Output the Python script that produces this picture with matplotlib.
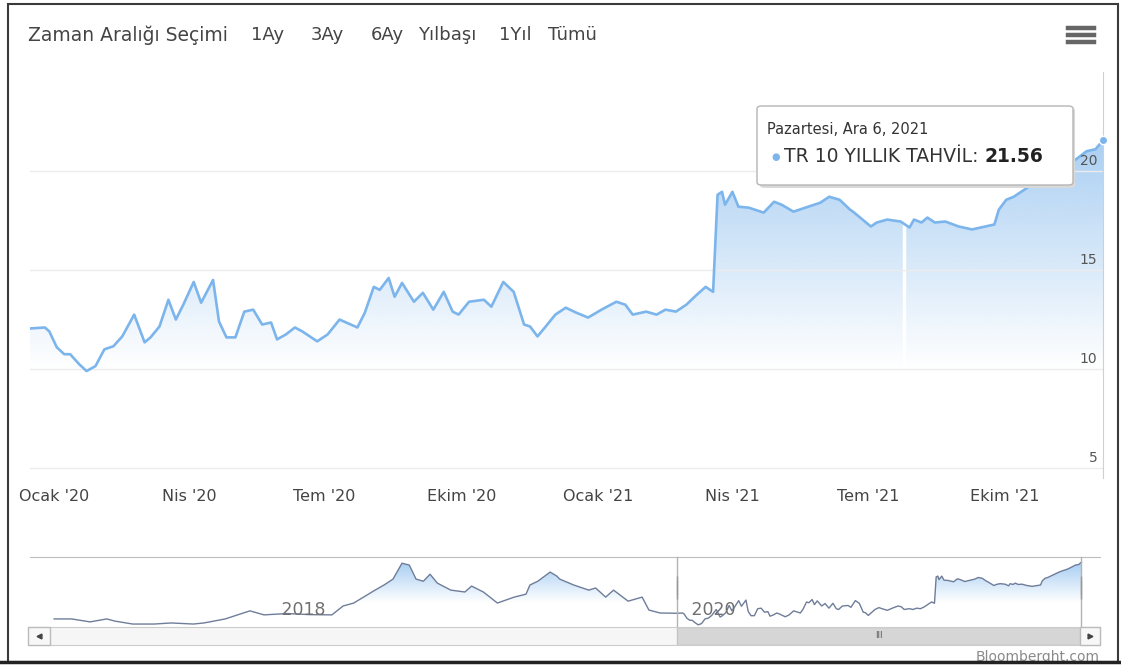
import numpy as np
import pandas as pd
import matplotlib
matplotlib.use('Agg')
import matplotlib.pyplot as plt
import matplotlib.dates as mdates
import matplotlib.transforms as mtransforms
from matplotlib.patches import Rectangle, FancyBboxPatch
from matplotlib.lines import Line2D
from matplotlib.colors import to_rgb

# TR 10 yillik tahvil getirisi (gunluk kapanis, secili aralik)
tarih = ['2019-12-16', '2019-12-26', '2019-12-29', '2020-01-03', '2020-01-08', '2020-01-12',
         '2020-01-18', '2020-01-23', '2020-01-29', '2020-02-04', '2020-02-10', '2020-02-16',
         '2020-02-24', '2020-03-02', '2020-03-06', '2020-03-12', '2020-03-18', '2020-03-23',
         '2020-03-28', '2020-04-04', '2020-04-09', '2020-04-17', '2020-04-21', '2020-04-26',
         '2020-05-02', '2020-05-08', '2020-05-14', '2020-05-20', '2020-05-26', '2020-05-30',
         '2020-06-05', '2020-06-11', '2020-06-16', '2020-06-26', '2020-07-03', '2020-07-11',
         '2020-07-23', '2020-07-28', '2020-08-03', '2020-08-07', '2020-08-13', '2020-08-17',
         '2020-08-22', '2020-08-30', '2020-09-05', '2020-09-12', '2020-09-19', '2020-09-25',
         '2020-09-29', '2020-10-06', '2020-10-16', '2020-10-21', '2020-10-29', '2020-11-05',
         '2020-11-12', '2020-11-16', '2020-11-21', '2020-11-26', '2020-12-03', '2020-12-10',
         '2020-12-17', '2020-12-25', '2021-01-03', '2021-01-13', '2021-01-19', '2021-01-24',
         '2021-02-02', '2021-02-09', '2021-02-15', '2021-02-22', '2021-03-01', '2021-03-08',
         '2021-03-14', '2021-03-19', '2021-03-22', '2021-03-25', '2021-03-27', '2021-04-01',
         '2021-04-05', '2021-04-12', '2021-04-22', '2021-04-29', '2021-05-04', '2021-05-12',
         '2021-05-20', '2021-05-30', '2021-06-05', '2021-06-12', '2021-06-19', '2021-06-21',
         '2021-07-03', '2021-07-07', '2021-07-14', '2021-07-23', '2021-07-29', '2021-08-01',
         '2021-08-06', '2021-08-10', '2021-08-15', '2021-08-22', '2021-08-31', '2021-09-09',
         '2021-09-18', '2021-09-24', '2021-09-27', '2021-10-02', '2021-10-07', '2021-10-11',
         '2021-10-17', '2021-10-25', '2021-11-01', '2021-11-10', '2021-11-18', '2021-11-25',
         '2021-12-01', '2021-12-06']
getiri = [12.05, 12.1, 11.9, 11.1, 10.75, 10.75,
          10.25, 9.9, 10.15, 11.0, 11.15, 11.65,
          12.75, 11.35, 11.6, 12.15, 13.5, 12.5,
          13.25, 14.4, 13.35, 14.5, 12.4, 11.6,
          11.6, 12.9, 13.0, 12.25, 12.35, 11.5,
          11.75, 12.1, 11.9, 11.4, 11.75, 12.5,
          12.1, 12.85, 14.15, 14.0, 14.6, 13.65,
          14.35, 13.4, 13.85, 13.0, 13.9, 12.9,
          12.75, 13.4, 13.5, 13.15, 14.4, 13.9,
          12.25, 12.15, 11.65, 12.1, 12.75, 13.1,
          12.85, 12.6, 13.0, 13.4, 13.25, 12.75,
          12.9, 12.75, 13.0, 12.9, 13.25, 13.75,
          14.15, 13.9, 18.8, 18.95, 18.3, 18.95,
          18.2, 18.15, 17.9, 18.45, 18.3, 17.95,
          18.15, 18.4, 18.7, 18.55, 18.05, 17.95,
          17.2, 17.4, 17.55, 17.45, 17.15, 17.55,
          17.4, 17.65, 17.4, 17.45, 17.2, 17.05,
          17.2, 17.3, 18.05, 18.55, 18.7, 18.9,
          19.2, 19.6, 19.9, 20.2, 20.6, 21.0,
          21.1, 21.56]

# navigator icin onceki donem
gecmis_tarih = ['2016-12-01', '2017-01-01', '2017-02-03', '2017-03-05', '2017-03-19', '2017-04-20',
                '2017-05-28', '2017-06-28', '2017-08-06', '2017-08-25', '2017-10-02', '2017-11-15',
                '2017-12-10', '2018-01-20', '2018-03-01', '2018-04-10', '2018-04-30', '2018-05-19',
                '2018-06-14', '2018-06-26', '2018-07-12', '2018-07-28', '2018-08-13', '2018-08-26',
                '2018-09-07', '2018-09-20', '2018-10-02', '2018-10-15', '2018-11-08', '2018-12-03',
                '2018-12-15', '2019-01-05', '2019-01-30', '2019-03-01', '2019-03-22', '2019-03-29',
                '2019-04-12', '2019-05-04', '2019-05-16', '2019-05-21', '2019-06-15', '2019-07-12',
                '2019-07-24', '2019-08-11', '2019-08-25', '2019-09-20', '2019-10-15', '2019-10-27',
                '2019-11-16']
gecmis_getiri = [11.0, 11.0, 10.45, 11.0, 10.6, 10.05,
                 10.05, 10.25, 10.05, 10.25, 11.0, 12.5,
                 11.75, 12.0, 11.8, 11.75, 13.4, 13.95,
                 15.6, 16.35, 17.3, 18.4, 21.35, 21.0,
                 18.4, 18.0, 19.3, 17.65, 16.35, 16.0,
                 17.1, 16.0, 13.95, 15.05, 15.6, 17.3,
                 18.0, 19.7, 18.95, 18.4, 17.3, 16.35,
                 16.75, 15.05, 16.35, 14.3, 15.05, 12.65,
                 12.1]

xtick_tarih = ['2020-01-01', '2020-04-01', '2020-07-01', '2020-10-01',
               '2021-01-01', '2021-04-01', '2021-07-01', '2021-10-01']
xtick_etiket = ["Ocak '20", "Nis '20", "Tem '20", "Ekim '20",
                "Ocak '21", "Nis '21", "Tem '21", "Ekim '21"]
ytick_deger = [5, 10, 15, 20]
nav_yil = ['2018-01-01', '2020-01-01']
bosluk_tarih = '2021-07-25'

secenekler = ['1Ay', '3Ay', '6Ay', 'Yılbaşı', '1Yıl', 'Tümü']
secenek_x = [251, 311, 371, 418, 499, 548]

LINE = '#7cb5ec'
W, H = 1121, 668

def fx(px):
    return px / W

def fy(py):
    return 1 - py / H

def gradient_fill(ax, x, y, y0, y1, lo, hi, amax, z=1):
    # alan dolgusu: ustte mavi, asagi dogru seffaf
    coll = ax.fill_between(x, y, y0, facecolor='none', edgecolor='none')
    vals = np.linspace(y0, y1, 256)
    rgba = np.zeros((256, 1, 4))
    rgba[..., :3] = to_rgb(LINE)
    rgba[:, 0, 3] = np.clip((vals - lo) / (hi - lo), 0, 1) * amax
    xn = mdates.date2num(x)
    im = ax.imshow(rgba, extent=[xn[0], xn[-1], y0, y1], origin='lower',
                   aspect='auto', interpolation='bilinear', zorder=z)
    im.set_clip_path(coll.get_paths()[0], transform=ax.transData)

plt.rcParams['font.family'] = 'DejaVu Sans'
fig = plt.figure(figsize=(W / 100, H / 100), dpi=100)
fig.patch.set_facecolor('white')

t = pd.to_datetime(tarih)
y = np.array(getiri)

# ---------------------------------------------------------------- ana grafik
ax = fig.add_axes([fx(30), fy(478), fx(1103) - fx(30), fy(72) - fy(478)])
ymin, ymax = 4.5, 25.0
gradient_fill(ax, t, y, ymin, ymax, 10.0, 24.0, 0.78)
ax.axvline(pd.Timestamp(bosluk_tarih), color='white', lw=2.5, zorder=1.5)
ax.plot(t, y, color=LINE, lw=1.9, zorder=3, solid_joinstyle='round')
ax.plot(t[-1], y[-1], 'o', ms=6, color=LINE, mec='white', mew=1, zorder=5, clip_on=False)
ax.set_xlim(t[0], t[-1])
ax.set_ylim(ymin, ymax)

ax.set_xticks(pd.to_datetime(xtick_tarih))
ax.set_xticklabels(xtick_etiket, fontsize=11.5, color='#444444')
ax.tick_params(axis='x', length=0, pad=8)
ax.set_yticks(ytick_deger)
ax.set_yticklabels([])
ax.tick_params(axis='y', length=0)
ax.grid(axis='y', color='#ececec', lw=1, zorder=1.8)
for s in ['left', 'top', 'bottom']:
    ax.spines[s].set_visible(False)
ax.spines['right'].set_color('#d0d0d0')

ylab_tr = mtransforms.offset_copy(ax.get_yaxis_transform(), fig=fig, x=-4, y=2, units='points')
for v in ytick_deger:
    ax.text(1, v, str(v), transform=ylab_tr, ha='right', va='bottom', fontsize=10, color='#555555')

# ---------------------------------------------------------------- navigator
nt = pd.to_datetime(gecmis_tarih + tarih)
ny = np.array(gecmis_getiri + getiri)
nav = fig.add_axes([fx(30), fy(627), fx(1100) - fx(30), fy(557) - fy(627)])
nymin, nymax = 9.5, 22.5
gradient_fill(nav, nt, ny, nymin, nymax, 14.0, 22.5, 0.75)
nav.plot(nt, ny, color='#6f7d99', lw=1, zorder=3)
nav.set_xlim(pd.Timestamp('2016-10-19'), pd.Timestamp('2022-01-08'))
nav.set_ylim(nymin, nymax)
nav.set_xticks([])
nav.set_yticks([])
for s in ['left', 'right', 'bottom']:
    nav.spines[s].set_visible(False)
nav.spines['top'].set_color('#bdbdbd')

for d in nav_yil:
    nav.text(pd.Timestamp(d), 0.24, ' ' + d[:4], transform=nav.get_xaxis_transform(),
             fontsize=12.5, color='#707070', ha='left', va='center', zorder=4)

ntr = nav.get_xaxis_transform()
x0, x1 = mdates.date2num(nav.get_xlim())
px_gun = (x1 - x0) / 1070.0
for d in [t[0], t[-1]]:
    nav.plot([d, d], [0, 1], transform=ntr, color='#b3b3b3', lw=1, zorder=4, clip_on=False)
    xc = mdates.date2num(d)
    nav.add_patch(Rectangle((xc - 4.5 * px_gun, 0.40), 9 * px_gun, 0.33, transform=ntr,
                            facecolor='#f7f7f7', edgecolor='#999999', lw=1, zorder=6, clip_on=False))
    for k in [-1.3, 1.3]:
        nav.plot([xc + k * px_gun] * 2, [0.47, 0.66], transform=ntr, color='#999999', lw=0.8,
                 zorder=7, clip_on=False)

# ---------------------------------------------------------------- kaydirma cubugu
sb = fig.add_axes([fx(30), fy(645), fx(1100) - fx(30), fy(627) - fy(645)], sharex=nav)
sb.set_facecolor('#f6f6f6')
sb.set_yticks([])
sb.tick_params(axis='x', length=0, labelbottom=False)
for s in sb.spines.values():
    s.set_color('#cccccc')
str_ = sb.get_xaxis_transform()
sb.add_patch(Rectangle((mdates.date2num(t[0]), 0), mdates.date2num(t[-1]) - mdates.date2num(t[0]), 1,
                       transform=str_, facecolor='#d6d6d6', edgecolor='#c4c4c4', lw=1, zorder=2))
sb.text(t[0] + (t[-1] - t[0]) / 2, 0.5, 'III', transform=str_, ha='center', va='center',
        fontsize=6, color='#555555', zorder=3)
sb.add_patch(Rectangle((-2 / 1070, 0), 22 / 1070, 1, transform=sb.transAxes,
                       facecolor='#f7f7f7', edgecolor='#bbbbbb', lw=1, zorder=4, clip_on=False))
sb.add_patch(Rectangle((1 - 20 / 1070, 0), 20 / 1070, 1, transform=sb.transAxes,
                       facecolor='#f7f7f7', edgecolor='#bbbbbb', lw=1, zorder=4, clip_on=False))
sb.plot([9 / 1070], [0.5], transform=sb.transAxes, marker='<', ms=3.5, color='#444444', zorder=5, clip_on=False)
sb.plot([1 - 10 / 1070], [0.5], transform=sb.transAxes, marker='>', ms=3.5, color='#444444', zorder=5, clip_on=False)

# ---------------------------------------------------------------- ust menu
fig.text(fx(28), fy(35), 'Zaman Aralığı Seçimi', fontsize=13.5, color='#444444', va='center')
for lab, px in zip(secenekler, secenek_x):
    fig.text(fx(px), fy(35), lab, fontsize=13, color='#444444', va='center')
for py in [28, 35, 42]:
    fig.add_artist(Line2D([fx(1068), fx(1094)], [fy(py), fy(py)], color='#666666', lw=3.2))

# ---------------------------------------------------------------- tooltip
fig.add_artist(FancyBboxPatch((fx(760), fy(188)), fx(1075) - fx(760), fy(108) - fy(188),
                              boxstyle='round,pad=0,rounding_size=0.004', transform=fig.transFigure,
                              facecolor='#d9d9d9', edgecolor='none', zorder=9))
fig.add_artist(FancyBboxPatch((fx(757), fy(185)), fx(1073) - fx(757), fy(106) - fy(185),
                              boxstyle='round,pad=0,rounding_size=0.004', transform=fig.transFigure,
                              facecolor='white', edgecolor='#b5b5b5', lw=1, zorder=10))
fig.text(fx(767), fy(130), 'Pazartesi, Ara 6, 2021', fontsize=10.5, color='#333333', va='center', zorder=11)
fig.text(fx(771), fy(157), '●', fontsize=7, color=LINE, va='center', zorder=11)
t1 = fig.text(fx(784), fy(157), 'TR 10 YILLIK TAHVİL: ', fontsize=13.5, color='#333333', va='center', zorder=11)
fig.canvas.draw()
bb = t1.get_window_extent(renderer=fig.canvas.get_renderer())
fig.text(bb.x1 / W, fy(157), f'{getiri[-1]:.2f}', fontsize=13.5, fontweight='bold',
         color='#222222', va='center', zorder=11)

# ---------------------------------------------------------------- cerceve ve kaynak
fig.text(fx(1100), fy(657), 'Bloomberght.com', fontsize=10, color='#8a8a8a', ha='right', va='center')
fig.add_artist(Rectangle((fx(8), fy(662)), fx(1118) - fx(8), fy(4) - fy(662), transform=fig.transFigure,
                         facecolor='none', edgecolor='#3a3a3a', lw=1.5, zorder=20))
fig.add_artist(Line2D([0, 1], [fy(662), fy(662)], color='#222222', lw=2.5, zorder=20))

fig.savefig('out.png', dpi=100, facecolor='white')
